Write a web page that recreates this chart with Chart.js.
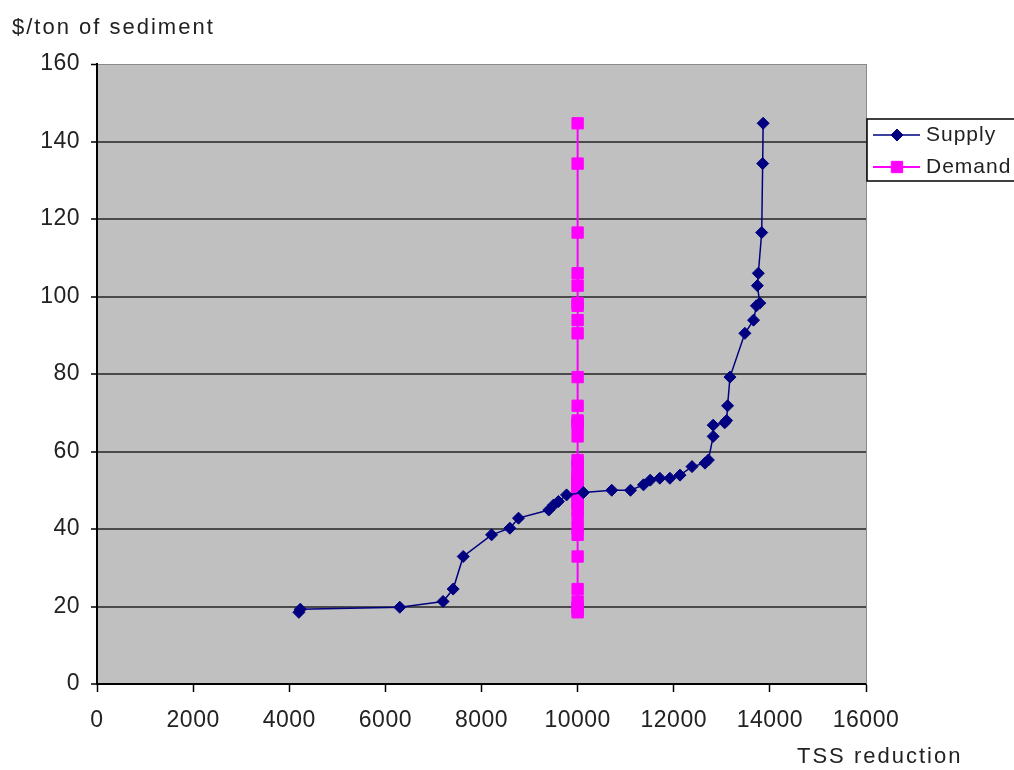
<!DOCTYPE html>
<html><head><meta charset="utf-8">
<script src="https://cdn.jsdelivr.net/npm/chart.js@4.4.1/dist/chart.umd.min.js"></script>
<style>html,body{margin:0;padding:0;background:#fff;}#wrap{width:1014px;height:770px;}</style>
</head><body><div id="wrap"><canvas id="c" width="1014" height="770"></canvas></div>
<script>
// TSS reduction (x) and $/ton (y) of the supply curve
const supplyTSS = [4200, 4230, 6300, 7200, 7410, 7620, 8210, 8590, 8770, 9400, 9500, 9600, 9770, 10120, 10710, 11100, 11370, 11510, 11710, 11920, 12130, 12380, 12650, 12720, 12820, 12820, 13060, 13100, 13120, 13170, 13480, 13660, 13720, 13790, 13740, 13760, 13830, 13850, 13860];
const supplyPrice = [18.5, 19.3, 19.8, 21.3, 24.5, 32.9, 38.5, 40.2, 42.8, 44.9, 46.2, 47.1, 48.8, 49.4, 50.0, 50.0, 51.4, 52.6, 53.1, 53.1, 53.9, 56.1, 57.0, 57.8, 63.9, 66.8, 67.4, 68.0, 71.8, 79.2, 90.5, 93.9, 97.6, 98.3, 102.8, 106.0, 116.5, 134.3, 144.7];
// Demand: vertical line at one TSS level
const demandTSS = 10000;
const demandPrice = [18.5, 19.3, 19.8, 21.3, 24.5, 32.9, 38.5, 40.2, 42.8, 44.9, 46.2, 47.1, 48.8, 49.4, 50.0, 50.0, 51.4, 52.6, 53.1, 53.1, 53.9, 56.1, 57.0, 57.8, 63.9, 66.8, 67.4, 68.0, 71.8, 79.2, 90.5, 93.9, 97.6, 98.3, 102.8, 106.0, 116.5, 134.3, 144.7];
const seriesNames = ['Supply', 'Demand'];
const xTicksStep = 2000, xMax = 16000;
const yTicksStep = 20, yMax = 160;
const yTitle = '$/ton of sediment';
const xTitle = 'TSS reduction';

const FONT = '"Liberation Sans", Arial, sans-serif';
const supplyColor = '#000080';
const demandColor = '#FF00FF';

const decor = {
  id: 'decor',
  beforeDraw(chart) {
    const {ctx, chartArea: a} = chart;
    ctx.fillStyle = '#fff';
    ctx.fillRect(0, 0, chart.width, chart.height);
    ctx.fillStyle = '#C0C0C0';
    ctx.fillRect(a.left, a.top, a.right - a.left, a.bottom - a.top);
    ctx.letterSpacing = '0.5px';
  },
  afterDraw(chart) {
    const {ctx, chartArea: a} = chart;
    ctx.save();
    // right border of plot
    ctx.strokeStyle = '#8a8a8a';
    ctx.lineWidth = 1;
    ctx.beginPath(); ctx.moveTo(a.right + 0.5, a.top); ctx.lineTo(a.right + 0.5, a.bottom); ctx.stroke();
    // titles
    ctx.fillStyle = '#222';
    ctx.textBaseline = 'middle';
    ctx.font = '22px ' + FONT;
    ctx.textAlign = 'left';
    ctx.letterSpacing = '2px';
    ctx.fillText(yTitle, 12, 28);
    ctx.fillText(xTitle, 797, 757);
    // legend
    ctx.fillStyle = '#fff';
    ctx.fillRect(867, 119, 160, 62);
    ctx.strokeStyle = '#000';
    ctx.lineWidth = 1.5;
    ctx.strokeRect(867, 119, 160, 62);
    const rows = [[135, supplyColor, 'rectRot', 6, 1.5], [167, demandColor, 'rect', 8, 2]];
    rows.forEach((r, i) => {
      ctx.strokeStyle = r[1]; ctx.lineWidth = r[4];
      ctx.beginPath(); ctx.moveTo(873, r[0]); ctx.lineTo(920, r[0]); ctx.stroke();
      ctx.fillStyle = r[1];
      ctx.lineWidth = 1;
      Chart.helpers.drawPoint(ctx, {pointStyle: r[2], radius: r[3], borderWidth: 1}, 897, r[0]);
      ctx.fillStyle = '#222';
      ctx.font = '21px ' + FONT;
      ctx.textAlign = 'left';
      ctx.letterSpacing = '1px';
      ctx.fillText(seriesNames[i], 926, r[0]);
    });
    ctx.restore();
  }
};

new Chart(document.getElementById('c'), {
  type: 'scatter',
  data: {
    datasets: [
      {
        label: seriesNames[0],
        data: supplyTSS.map((x, i) => ({x, y: supplyPrice[i]})),
        showLine: true,
        borderColor: supplyColor,
        backgroundColor: supplyColor,
        borderWidth: 1.5,
        pointStyle: 'rectRot',
        pointRadius: 6,
        pointBorderWidth: 1,
        pointBorderColor: supplyColor
      },
      {
        label: seriesNames[1],
        data: demandPrice.map(y => ({x: demandTSS, y})),
        showLine: true,
        borderColor: demandColor,
        backgroundColor: demandColor,
        borderWidth: 2,
        pointStyle: 'rect',
        pointRadius: 8,
        pointBorderWidth: 1,
        pointBorderColor: demandColor
      }
    ]
  },
  options: {
    responsive: false,
    animation: false,
    devicePixelRatio: 1,
    layout: {padding: {top: 64, right: 148, left: 0, bottom: 0}},
    plugins: {legend: {display: false}, tooltip: {enabled: false}},
    scales: {
      x: {
        type: 'linear', min: 0, max: xMax,
        ticks: {stepSize: xTicksStep, color: '#222', font: {size: 23, family: FONT}, padding: 15, maxRotation: 0,
                callback: v => String(v)},
        grid: {drawOnChartArea: false, tickLength: 8, tickColor: '#000', tickWidth: 1.5},
        border: {color: '#000', width: 2},
        afterFit: s => { s.height = 86; }
      },
      y: {
        type: 'linear', min: 0, max: yMax,
        ticks: {stepSize: yTicksStep, color: '#222', font: {size: 23, family: FONT}, padding: 11,
                callback: v => String(v)},
        grid: {
          color: c => (c.tick && c.tick.value === yMax) ? '#8a8a8a' : '#4a4a4a',
          lineWidth: c => (c.tick && c.tick.value === yMax) ? 1 : 2,
          tickLength: 6, tickColor: '#000', tickWidth: 1.5
        },
        border: {color: '#000', width: 2},
        afterFit: s => { s.width = 97; }
      }
    }
  },
  plugins: [decor]
});
</script></body></html>
